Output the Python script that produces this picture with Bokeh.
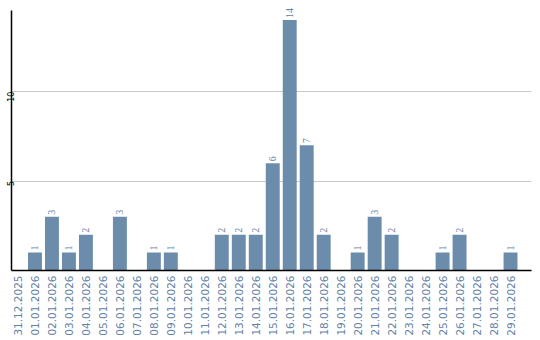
import math
from bokeh.plotting import figure
from bokeh.models import Range1d, FixedTicker, ColumnDataSource, LabelSet
from bokeh.embed import file_html
from bokeh.resources import INLINE

dates = ["31.12.2025", "01.01.2026", "02.01.2026", "03.01.2026", "04.01.2026",
         "05.01.2026", "06.01.2026", "07.01.2026", "08.01.2026", "09.01.2026",
         "10.01.2026", "11.01.2026", "12.01.2026", "13.01.2026", "14.01.2026",
         "15.01.2026", "16.01.2026", "17.01.2026", "18.01.2026", "19.01.2026",
         "20.01.2026", "21.01.2026", "22.01.2026", "23.01.2026", "24.01.2026",
         "25.01.2026", "26.01.2026", "27.01.2026", "28.01.2026", "29.01.2026"]
counts = [0, 1, 3, 1, 2, 0, 3, 0, 1, 1, 0, 0, 2, 2, 2, 6, 14, 7, 2, 0,
          1, 3, 2, 0, 0, 1, 2, 0, 0, 1]
y_ticks = [5, 10]

BAR = "#6b8cab"
LBL = "#5f82a6"

xs = list(range(len(dates)))
nz = [i for i in xs if counts[i] > 0]
src = ColumnDataSource(dict(x=xs, top=counts))
lab = ColumnDataSource(dict(x=nz, y=[counts[i] for i in nz],
                            t=[str(counts[i]) for i in nz]))

p = figure(width=540, height=340, output_backend="svg", toolbar_location=None,
           x_range=Range1d(-0.382, 30.235), y_range=Range1d(0, 14.92),
           min_border_left=0, min_border_right=9, min_border_top=3,
           min_border_bottom=70)
p.outline_line_color = None
p.background_fill_color = "white"
p.border_fill_color = "white"

p.vbar(x="x", top="top", width=0.82, bottom=0, source=src,
       fill_color=BAR, line_color=None)

labels = LabelSet(x="x", y="y", text="t", source=lab, angle=math.pi / 2,
                  x_offset=0, y_offset=2, text_align="left",
                  text_baseline="middle", text_color=LBL,
                  text_font="DejaVu Sans", text_font_size="10px")
p.add_layout(labels)

p.xgrid.grid_line_color = None
p.ygrid.grid_line_color = "#c8c8c8"
p.ygrid.ticker = FixedTicker(ticks=y_ticks)

p.xaxis.ticker = FixedTicker(ticks=xs)
p.xaxis.major_label_overrides = {i: d for i, d in enumerate(dates)}
p.xaxis.major_label_orientation = math.pi / 2
p.xaxis.major_label_text_font = "DejaVu Sans"
p.xaxis.major_label_text_font_size = "10.5px"
p.xaxis.major_label_text_color = LBL
p.xaxis.major_tick_line_color = None
p.xaxis.minor_tick_line_color = None
p.xaxis.major_tick_out = 0
p.xaxis.major_label_standoff = 5
p.xaxis.axis_line_color = "black"
p.xaxis.axis_line_width = 1.5

p.yaxis.ticker = FixedTicker(ticks=y_ticks)
p.yaxis.bounds = (0, 14.52)
p.yaxis.major_label_orientation = math.pi / 2
p.yaxis.major_label_text_font = "DejaVu Sans"
p.yaxis.major_label_text_font_size = "8px"
p.yaxis.major_label_text_color = "black"
p.yaxis.major_tick_line_color = None
p.yaxis.minor_tick_line_color = None
p.yaxis.major_tick_out = 0
p.yaxis.major_tick_in = 0
p.yaxis.major_label_standoff = 1
p.yaxis.axis_line_color = "black"
p.yaxis.axis_line_width = 1.5

open("out.html", "w").write(file_html(p, INLINE))
